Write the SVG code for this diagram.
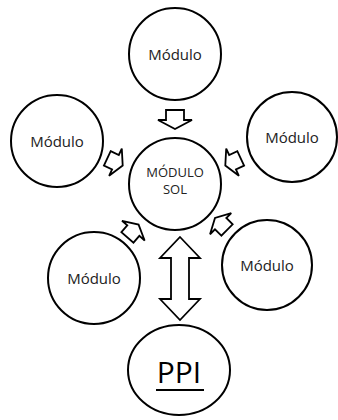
<svg xmlns="http://www.w3.org/2000/svg" width="338" height="420" viewBox="0 0 338 420">
<style>
.c{fill:#fff;stroke:#000;stroke-width:2}
.a{fill:#fff;stroke:#000;stroke-width:1.8;stroke-linejoin:miter}
.t{font-family:"Open Sans","Liberation Sans",sans-serif;font-size:15px;fill:#222;text-anchor:middle}
.s{font-family:"Open Sans","Liberation Sans",sans-serif;font-size:13px;fill:#222;text-anchor:middle}
.p{font-family:"Open Sans","Liberation Sans",sans-serif;font-size:30px;fill:#000;text-anchor:middle}
</style>
<defs>
<path id="big" d="M-9.5,-9 H0.5 V-17 L9.5,0 L0.5,17 V9 H-9.5 Z"/>
<path id="sm" d="M-8.5,-8 H0.5 V-15 L8.5,0 L0.5,15 V8 H-8.5 Z"/>
</defs>
<rect width="338" height="420" fill="#fff"/>
<g id="connectors">
<use href="#big" class="a" transform="translate(175,119.5) rotate(90)"/>
<use href="#sm" class="a" transform="translate(115,162) rotate(25)"/>
<use href="#sm" class="a" transform="translate(233,162) rotate(155)"/>
<use href="#sm" class="a" transform="translate(133,231) rotate(-49)"/>
<use href="#sm" class="a" transform="translate(221,224) rotate(-135)"/>
<path class="a" d="M180,237 L200,258 H189 V299 H200 L180,320 L160,299 H171 V258 H160 Z"/>
</g>
<g id="top"><circle class="c" cx="175" cy="54" r="46"/><text class="t" x="175" y="60">Módulo</text></g>
<g id="left"><circle class="c" cx="57" cy="141" r="46"/><text class="t" x="57" y="147">Módulo</text></g>
<g id="right"><circle class="c" cx="292" cy="137" r="45"/><text class="t" x="292" y="143">Módulo</text></g>
<g id="center"><circle class="c" cx="175" cy="184" r="46"/><text class="s" x="175" y="177">MÓDULO</text><text class="s" x="175" y="194">SOL</text></g>
<g id="bottomleft"><circle class="c" cx="94" cy="278" r="46"/><text class="t" x="94" y="284">Módulo</text></g>
<g id="bottomright"><circle class="c" cx="267" cy="265" r="45"/><text class="t" x="267" y="271">Módulo</text></g>
<g id="ppi"><ellipse class="c" cx="179" cy="370" rx="51" ry="45"/><text class="p" x="179" y="383">PPI</text><line x1="156" y1="390" x2="204" y2="390" stroke="#000" stroke-width="2"/></g>
</svg>
